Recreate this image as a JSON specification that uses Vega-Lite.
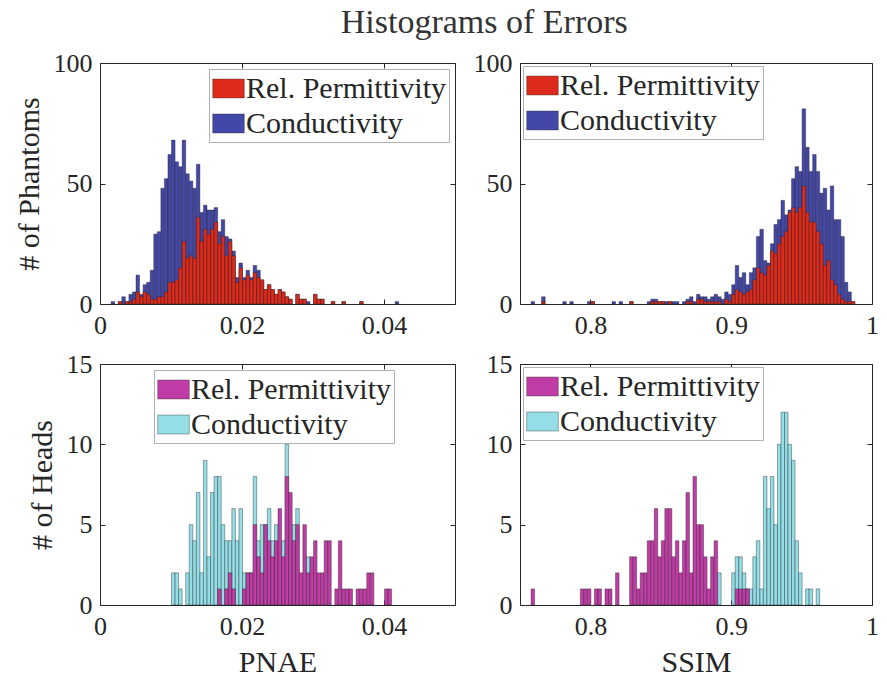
{
  "$schema": "https://vega.github.io/schema/vega-lite/v6.json",
  "padding": {"left": 13, "top": 5, "right": 5, "bottom": 5},
  "title": {"text": "Histograms of Errors", "fontSize": 34, "fontWeight": "normal", "font": "Liberation Serif", "color": "#333333", "anchor": "middle", "baseline": "alphabetic", "offset": -17, "dx": 38},
  "datasets": {
    "tl": [
      {"s":"Conductivity","a":0.0015,"b":0.002,"n":1},{"s":"Conductivity","a":0.0025,"b":0.003,"n":1},{"s":"Conductivity","a":0.003,"b":0.0035,"n":3},{"s":"Conductivity","a":0.0035,"b":0.004,"n":1},{"s":"Conductivity","a":0.004,"b":0.0045,"n":4},{"s":"Conductivity","a":0.0045,"b":0.005,"n":5},{"s":"Conductivity","a":0.005,"b":0.0055,"n":12},{"s":"Conductivity","a":0.0055,"b":0.006,"n":4},{"s":"Conductivity","a":0.006,"b":0.0065,"n":8},{"s":"Conductivity","a":0.0065,"b":0.007,"n":9},{"s":"Conductivity","a":0.007,"b":0.0075,"n":14},{"s":"Conductivity","a":0.0075,"b":0.008,"n":29},{"s":"Conductivity","a":0.008,"b":0.0085,"n":30},{"s":"Conductivity","a":0.0085,"b":0.009,"n":48},{"s":"Conductivity","a":0.009,"b":0.0095,"n":52},{"s":"Conductivity","a":0.0095,"b":0.01,"n":62},{"s":"Conductivity","a":0.01,"b":0.0105,"n":68},{"s":"Conductivity","a":0.0105,"b":0.011,"n":59},{"s":"Conductivity","a":0.011,"b":0.0115,"n":57},{"s":"Conductivity","a":0.0115,"b":0.012,"n":68},{"s":"Conductivity","a":0.012,"b":0.0125,"n":54},{"s":"Conductivity","a":0.0125,"b":0.013,"n":51},{"s":"Conductivity","a":0.013,"b":0.0135,"n":48},{"s":"Conductivity","a":0.0135,"b":0.014,"n":58},{"s":"Conductivity","a":0.014,"b":0.0145,"n":38},{"s":"Conductivity","a":0.0145,"b":0.015,"n":41},{"s":"Conductivity","a":0.015,"b":0.0155,"n":39},{"s":"Conductivity","a":0.0155,"b":0.016,"n":39},{"s":"Conductivity","a":0.016,"b":0.0165,"n":40},{"s":"Conductivity","a":0.0165,"b":0.017,"n":30},{"s":"Conductivity","a":0.017,"b":0.0175,"n":35},{"s":"Conductivity","a":0.0175,"b":0.018,"n":28},{"s":"Conductivity","a":0.018,"b":0.0185,"n":27},{"s":"Conductivity","a":0.0185,"b":0.019,"n":22},{"s":"Conductivity","a":0.019,"b":0.0195,"n":11},{"s":"Conductivity","a":0.0195,"b":0.02,"n":17},{"s":"Conductivity","a":0.02,"b":0.0205,"n":11},{"s":"Conductivity","a":0.0205,"b":0.021,"n":14},{"s":"Conductivity","a":0.021,"b":0.0215,"n":11},{"s":"Conductivity","a":0.0215,"b":0.022,"n":16},{"s":"Conductivity","a":0.022,"b":0.0225,"n":14},{"s":"Conductivity","a":0.0225,"b":0.023,"n":10},{"s":"Conductivity","a":0.023,"b":0.0235,"n":6},{"s":"Conductivity","a":0.0235,"b":0.024,"n":8},{"s":"Conductivity","a":0.024,"b":0.0245,"n":6},{"s":"Conductivity","a":0.0245,"b":0.025,"n":4},{"s":"Conductivity","a":0.025,"b":0.0255,"n":6},{"s":"Conductivity","a":0.0255,"b":0.026,"n":5},{"s":"Conductivity","a":0.026,"b":0.0265,"n":3},{"s":"Conductivity","a":0.0265,"b":0.027,"n":2},{"s":"Conductivity","a":0.0275,"b":0.028,"n":4},{"s":"Conductivity","a":0.028,"b":0.0285,"n":2},{"s":"Conductivity","a":0.0285,"b":0.029,"n":2},{"s":"Conductivity","a":0.029,"b":0.0295,"n":1},{"s":"Conductivity","a":0.03,"b":0.0305,"n":4},{"s":"Conductivity","a":0.0305,"b":0.031,"n":2},{"s":"Conductivity","a":0.031,"b":0.0315,"n":2},{"s":"Conductivity","a":0.0325,"b":0.033,"n":1},{"s":"Conductivity","a":0.034,"b":0.0345,"n":1},{"s":"Conductivity","a":0.0365,"b":0.037,"n":1},{"s":"Conductivity","a":0.0415,"b":0.042,"n":1},
      {"s":"Rel. Permittivity","a":0.0025,"b":0.003,"n":1},{"s":"Rel. Permittivity","a":0.0035,"b":0.004,"n":1},{"s":"Rel. Permittivity","a":0.004,"b":0.0045,"n":1},{"s":"Rel. Permittivity","a":0.0045,"b":0.005,"n":2},{"s":"Rel. Permittivity","a":0.005,"b":0.0055,"n":5},{"s":"Rel. Permittivity","a":0.0055,"b":0.006,"n":3},{"s":"Rel. Permittivity","a":0.006,"b":0.0065,"n":5},{"s":"Rel. Permittivity","a":0.0065,"b":0.007,"n":4},{"s":"Rel. Permittivity","a":0.007,"b":0.0075,"n":2},{"s":"Rel. Permittivity","a":0.0075,"b":0.008,"n":2},{"s":"Rel. Permittivity","a":0.008,"b":0.0085,"n":3},{"s":"Rel. Permittivity","a":0.0085,"b":0.009,"n":3},{"s":"Rel. Permittivity","a":0.009,"b":0.0095,"n":5},{"s":"Rel. Permittivity","a":0.0095,"b":0.01,"n":9},{"s":"Rel. Permittivity","a":0.01,"b":0.0105,"n":9},{"s":"Rel. Permittivity","a":0.0105,"b":0.011,"n":10},{"s":"Rel. Permittivity","a":0.011,"b":0.0115,"n":15},{"s":"Rel. Permittivity","a":0.0115,"b":0.012,"n":26},{"s":"Rel. Permittivity","a":0.012,"b":0.0125,"n":19},{"s":"Rel. Permittivity","a":0.0125,"b":0.013,"n":20},{"s":"Rel. Permittivity","a":0.013,"b":0.0135,"n":19},{"s":"Rel. Permittivity","a":0.0135,"b":0.014,"n":36},{"s":"Rel. Permittivity","a":0.014,"b":0.0145,"n":26},{"s":"Rel. Permittivity","a":0.0145,"b":0.015,"n":31},{"s":"Rel. Permittivity","a":0.015,"b":0.0155,"n":29},{"s":"Rel. Permittivity","a":0.0155,"b":0.016,"n":31},{"s":"Rel. Permittivity","a":0.016,"b":0.0165,"n":34},{"s":"Rel. Permittivity","a":0.0165,"b":0.017,"n":25},{"s":"Rel. Permittivity","a":0.017,"b":0.0175,"n":28},{"s":"Rel. Permittivity","a":0.0175,"b":0.018,"n":20},{"s":"Rel. Permittivity","a":0.018,"b":0.0185,"n":26},{"s":"Rel. Permittivity","a":0.0185,"b":0.019,"n":20},{"s":"Rel. Permittivity","a":0.019,"b":0.0195,"n":9},{"s":"Rel. Permittivity","a":0.0195,"b":0.02,"n":15},{"s":"Rel. Permittivity","a":0.02,"b":0.0205,"n":10},{"s":"Rel. Permittivity","a":0.0205,"b":0.021,"n":12},{"s":"Rel. Permittivity","a":0.021,"b":0.0215,"n":10},{"s":"Rel. Permittivity","a":0.0215,"b":0.022,"n":13},{"s":"Rel. Permittivity","a":0.022,"b":0.0225,"n":11},{"s":"Rel. Permittivity","a":0.0225,"b":0.023,"n":10},{"s":"Rel. Permittivity","a":0.023,"b":0.0235,"n":6},{"s":"Rel. Permittivity","a":0.0235,"b":0.024,"n":8},{"s":"Rel. Permittivity","a":0.024,"b":0.0245,"n":6},{"s":"Rel. Permittivity","a":0.0245,"b":0.025,"n":4},{"s":"Rel. Permittivity","a":0.025,"b":0.0255,"n":6},{"s":"Rel. Permittivity","a":0.0255,"b":0.026,"n":5},{"s":"Rel. Permittivity","a":0.026,"b":0.0265,"n":3},{"s":"Rel. Permittivity","a":0.0265,"b":0.027,"n":2},{"s":"Rel. Permittivity","a":0.0275,"b":0.028,"n":4},{"s":"Rel. Permittivity","a":0.028,"b":0.0285,"n":2},{"s":"Rel. Permittivity","a":0.0285,"b":0.029,"n":2},{"s":"Rel. Permittivity","a":0.03,"b":0.0305,"n":4},{"s":"Rel. Permittivity","a":0.0305,"b":0.031,"n":2},{"s":"Rel. Permittivity","a":0.031,"b":0.0315,"n":2},{"s":"Rel. Permittivity","a":0.0325,"b":0.033,"n":1},{"s":"Rel. Permittivity","a":0.034,"b":0.0345,"n":1},{"s":"Rel. Permittivity","a":0.0365,"b":0.037,"n":1}
    ],
    "tr": [
      {"s":"Conductivity","a":0.7575,"b":0.76,"n":1},{"s":"Conductivity","a":0.765,"b":0.7675,"n":3},{"s":"Conductivity","a":0.78,"b":0.7825,"n":1},{"s":"Conductivity","a":0.785,"b":0.7875,"n":1},{"s":"Conductivity","a":0.7975,"b":0.8,"n":1},{"s":"Conductivity","a":0.8,"b":0.8025,"n":1},{"s":"Conductivity","a":0.815,"b":0.8175,"n":1},{"s":"Conductivity","a":0.82,"b":0.8225,"n":1},{"s":"Conductivity","a":0.8275,"b":0.83,"n":1},{"s":"Conductivity","a":0.84,"b":0.8425,"n":1},{"s":"Conductivity","a":0.8425,"b":0.845,"n":2},{"s":"Conductivity","a":0.845,"b":0.8475,"n":2},{"s":"Conductivity","a":0.8475,"b":0.85,"n":1},{"s":"Conductivity","a":0.85,"b":0.8525,"n":1},{"s":"Conductivity","a":0.8525,"b":0.855,"n":1},{"s":"Conductivity","a":0.855,"b":0.8575,"n":1},{"s":"Conductivity","a":0.8575,"b":0.86,"n":1},{"s":"Conductivity","a":0.86,"b":0.8625,"n":1},{"s":"Conductivity","a":0.865,"b":0.8675,"n":1},{"s":"Conductivity","a":0.8675,"b":0.87,"n":2},{"s":"Conductivity","a":0.87,"b":0.8725,"n":3},{"s":"Conductivity","a":0.8725,"b":0.875,"n":1},{"s":"Conductivity","a":0.875,"b":0.8775,"n":4},{"s":"Conductivity","a":0.8775,"b":0.88,"n":3},{"s":"Conductivity","a":0.88,"b":0.8825,"n":3},{"s":"Conductivity","a":0.8825,"b":0.885,"n":2},{"s":"Conductivity","a":0.885,"b":0.8875,"n":3},{"s":"Conductivity","a":0.8875,"b":0.89,"n":4},{"s":"Conductivity","a":0.89,"b":0.8925,"n":3},{"s":"Conductivity","a":0.8925,"b":0.895,"n":2},{"s":"Conductivity","a":0.895,"b":0.8975,"n":5},{"s":"Conductivity","a":0.8975,"b":0.9,"n":4},{"s":"Conductivity","a":0.9,"b":0.9025,"n":8},{"s":"Conductivity","a":0.9025,"b":0.905,"n":16},{"s":"Conductivity","a":0.905,"b":0.9075,"n":11},{"s":"Conductivity","a":0.9075,"b":0.91,"n":13},{"s":"Conductivity","a":0.91,"b":0.9125,"n":8},{"s":"Conductivity","a":0.9125,"b":0.915,"n":13},{"s":"Conductivity","a":0.915,"b":0.9175,"n":15},{"s":"Conductivity","a":0.9175,"b":0.92,"n":28},{"s":"Conductivity","a":0.92,"b":0.9225,"n":31},{"s":"Conductivity","a":0.9225,"b":0.925,"n":18},{"s":"Conductivity","a":0.925,"b":0.9275,"n":17},{"s":"Conductivity","a":0.9275,"b":0.93,"n":25},{"s":"Conductivity","a":0.93,"b":0.9325,"n":33},{"s":"Conductivity","a":0.9325,"b":0.935,"n":35},{"s":"Conductivity","a":0.935,"b":0.9375,"n":43},{"s":"Conductivity","a":0.9375,"b":0.94,"n":37},{"s":"Conductivity","a":0.94,"b":0.9425,"n":39},{"s":"Conductivity","a":0.9425,"b":0.945,"n":52},{"s":"Conductivity","a":0.945,"b":0.9475,"n":57},{"s":"Conductivity","a":0.9475,"b":0.95,"n":55},{"s":"Conductivity","a":0.95,"b":0.9525,"n":81},{"s":"Conductivity","a":0.9525,"b":0.955,"n":65},{"s":"Conductivity","a":0.955,"b":0.9575,"n":55},{"s":"Conductivity","a":0.9575,"b":0.96,"n":62},{"s":"Conductivity","a":0.96,"b":0.9625,"n":55},{"s":"Conductivity","a":0.9625,"b":0.965,"n":46},{"s":"Conductivity","a":0.965,"b":0.9675,"n":48},{"s":"Conductivity","a":0.9675,"b":0.97,"n":39},{"s":"Conductivity","a":0.97,"b":0.9725,"n":49},{"s":"Conductivity","a":0.9725,"b":0.975,"n":35},{"s":"Conductivity","a":0.975,"b":0.9775,"n":35},{"s":"Conductivity","a":0.9775,"b":0.98,"n":28},{"s":"Conductivity","a":0.98,"b":0.9825,"n":9},{"s":"Conductivity","a":0.9825,"b":0.985,"n":5},{"s":"Conductivity","a":0.985,"b":0.9875,"n":1},
      {"s":"Rel. Permittivity","a":0.765,"b":0.7675,"n":1},{"s":"Rel. Permittivity","a":0.8,"b":0.8025,"n":1},{"s":"Rel. Permittivity","a":0.8275,"b":0.83,"n":1},{"s":"Rel. Permittivity","a":0.8425,"b":0.845,"n":1},{"s":"Rel. Permittivity","a":0.845,"b":0.8475,"n":1},{"s":"Rel. Permittivity","a":0.8475,"b":0.85,"n":1},{"s":"Rel. Permittivity","a":0.85,"b":0.8525,"n":1},{"s":"Rel. Permittivity","a":0.855,"b":0.8575,"n":1},{"s":"Rel. Permittivity","a":0.8675,"b":0.87,"n":1},{"s":"Rel. Permittivity","a":0.87,"b":0.8725,"n":1},{"s":"Rel. Permittivity","a":0.875,"b":0.8775,"n":2},{"s":"Rel. Permittivity","a":0.8775,"b":0.88,"n":2},{"s":"Rel. Permittivity","a":0.88,"b":0.8825,"n":1},{"s":"Rel. Permittivity","a":0.8825,"b":0.885,"n":1},{"s":"Rel. Permittivity","a":0.885,"b":0.8875,"n":1},{"s":"Rel. Permittivity","a":0.8875,"b":0.89,"n":1},{"s":"Rel. Permittivity","a":0.89,"b":0.8925,"n":1},{"s":"Rel. Permittivity","a":0.895,"b":0.8975,"n":2},{"s":"Rel. Permittivity","a":0.8975,"b":0.9,"n":1},{"s":"Rel. Permittivity","a":0.9,"b":0.9025,"n":4},{"s":"Rel. Permittivity","a":0.9025,"b":0.905,"n":6},{"s":"Rel. Permittivity","a":0.905,"b":0.9075,"n":5},{"s":"Rel. Permittivity","a":0.9075,"b":0.91,"n":4},{"s":"Rel. Permittivity","a":0.91,"b":0.9125,"n":5},{"s":"Rel. Permittivity","a":0.9125,"b":0.915,"n":6},{"s":"Rel. Permittivity","a":0.915,"b":0.9175,"n":10},{"s":"Rel. Permittivity","a":0.9175,"b":0.92,"n":15},{"s":"Rel. Permittivity","a":0.92,"b":0.9225,"n":13},{"s":"Rel. Permittivity","a":0.9225,"b":0.925,"n":12},{"s":"Rel. Permittivity","a":0.925,"b":0.9275,"n":16},{"s":"Rel. Permittivity","a":0.9275,"b":0.93,"n":22},{"s":"Rel. Permittivity","a":0.93,"b":0.9325,"n":21},{"s":"Rel. Permittivity","a":0.9325,"b":0.935,"n":25},{"s":"Rel. Permittivity","a":0.935,"b":0.9375,"n":28},{"s":"Rel. Permittivity","a":0.9375,"b":0.94,"n":30},{"s":"Rel. Permittivity","a":0.94,"b":0.9425,"n":38},{"s":"Rel. Permittivity","a":0.9425,"b":0.945,"n":40},{"s":"Rel. Permittivity","a":0.945,"b":0.9475,"n":38},{"s":"Rel. Permittivity","a":0.9475,"b":0.95,"n":40},{"s":"Rel. Permittivity","a":0.95,"b":0.9525,"n":49},{"s":"Rel. Permittivity","a":0.9525,"b":0.955,"n":38},{"s":"Rel. Permittivity","a":0.955,"b":0.9575,"n":34},{"s":"Rel. Permittivity","a":0.9575,"b":0.96,"n":34},{"s":"Rel. Permittivity","a":0.96,"b":0.9625,"n":30},{"s":"Rel. Permittivity","a":0.9625,"b":0.965,"n":25},{"s":"Rel. Permittivity","a":0.965,"b":0.9675,"n":16},{"s":"Rel. Permittivity","a":0.9675,"b":0.97,"n":18},{"s":"Rel. Permittivity","a":0.97,"b":0.9725,"n":10},{"s":"Rel. Permittivity","a":0.9725,"b":0.975,"n":8},{"s":"Rel. Permittivity","a":0.975,"b":0.9775,"n":4},{"s":"Rel. Permittivity","a":0.9775,"b":0.98,"n":2},{"s":"Rel. Permittivity","a":0.98,"b":0.9825,"n":1},{"s":"Rel. Permittivity","a":0.9825,"b":0.985,"n":1},{"s":"Rel. Permittivity","a":0.985,"b":0.9875,"n":1}
    ],
    "bl": [
      {"s":"Conductivity","a":0.01,"b":0.0105,"n":2},{"s":"Conductivity","a":0.0105,"b":0.011,"n":2},{"s":"Conductivity","a":0.011,"b":0.0115,"n":1},{"s":"Conductivity","a":0.012,"b":0.0125,"n":2},{"s":"Conductivity","a":0.0125,"b":0.013,"n":5},{"s":"Conductivity","a":0.013,"b":0.0135,"n":4},{"s":"Conductivity","a":0.0135,"b":0.014,"n":7},{"s":"Conductivity","a":0.014,"b":0.0145,"n":2},{"s":"Conductivity","a":0.0145,"b":0.015,"n":9},{"s":"Conductivity","a":0.015,"b":0.0155,"n":3},{"s":"Conductivity","a":0.0155,"b":0.016,"n":7},{"s":"Conductivity","a":0.016,"b":0.0165,"n":8},{"s":"Conductivity","a":0.0165,"b":0.017,"n":8},{"s":"Conductivity","a":0.017,"b":0.0175,"n":5},{"s":"Conductivity","a":0.0175,"b":0.018,"n":4},{"s":"Conductivity","a":0.018,"b":0.0185,"n":4},{"s":"Conductivity","a":0.0185,"b":0.019,"n":6},{"s":"Conductivity","a":0.019,"b":0.0195,"n":4},{"s":"Conductivity","a":0.0195,"b":0.02,"n":6},{"s":"Conductivity","a":0.02,"b":0.0205,"n":2},{"s":"Conductivity","a":0.0205,"b":0.021,"n":2},{"s":"Conductivity","a":0.021,"b":0.0215,"n":2},{"s":"Conductivity","a":0.0215,"b":0.022,"n":8},{"s":"Conductivity","a":0.022,"b":0.0225,"n":4},{"s":"Conductivity","a":0.0225,"b":0.023,"n":5},{"s":"Conductivity","a":0.023,"b":0.0235,"n":5},{"s":"Conductivity","a":0.0235,"b":0.024,"n":6},{"s":"Conductivity","a":0.024,"b":0.0245,"n":4},{"s":"Conductivity","a":0.0245,"b":0.025,"n":5},{"s":"Conductivity","a":0.0255,"b":0.026,"n":4},{"s":"Conductivity","a":0.026,"b":0.0265,"n":10},{"s":"Conductivity","a":0.027,"b":0.0275,"n":5},{"s":"Conductivity","a":0.0275,"b":0.028,"n":6},{"s":"Conductivity","a":0.029,"b":0.0295,"n":3},
      {"s":"Rel. Permittivity","a":0.0165,"b":0.017,"n":1},{"s":"Rel. Permittivity","a":0.0175,"b":0.018,"n":1},{"s":"Rel. Permittivity","a":0.018,"b":0.0185,"n":2},{"s":"Rel. Permittivity","a":0.0185,"b":0.019,"n":1},{"s":"Rel. Permittivity","a":0.02,"b":0.0205,"n":1},{"s":"Rel. Permittivity","a":0.0205,"b":0.021,"n":2},{"s":"Rel. Permittivity","a":0.021,"b":0.0215,"n":2},{"s":"Rel. Permittivity","a":0.0215,"b":0.022,"n":5},{"s":"Rel. Permittivity","a":0.022,"b":0.0225,"n":3},{"s":"Rel. Permittivity","a":0.0225,"b":0.023,"n":2},{"s":"Rel. Permittivity","a":0.023,"b":0.0235,"n":5},{"s":"Rel. Permittivity","a":0.0235,"b":0.024,"n":4},{"s":"Rel. Permittivity","a":0.024,"b":0.0245,"n":3},{"s":"Rel. Permittivity","a":0.0245,"b":0.025,"n":4},{"s":"Rel. Permittivity","a":0.025,"b":0.0255,"n":6},{"s":"Rel. Permittivity","a":0.0255,"b":0.026,"n":3},{"s":"Rel. Permittivity","a":0.026,"b":0.0265,"n":8},{"s":"Rel. Permittivity","a":0.0265,"b":0.027,"n":7},{"s":"Rel. Permittivity","a":0.027,"b":0.0275,"n":4},{"s":"Rel. Permittivity","a":0.0275,"b":0.028,"n":5},{"s":"Rel. Permittivity","a":0.028,"b":0.0285,"n":2},{"s":"Rel. Permittivity","a":0.0285,"b":0.029,"n":5},{"s":"Rel. Permittivity","a":0.029,"b":0.0295,"n":2},{"s":"Rel. Permittivity","a":0.0295,"b":0.03,"n":3},{"s":"Rel. Permittivity","a":0.03,"b":0.0305,"n":4},{"s":"Rel. Permittivity","a":0.0305,"b":0.031,"n":2},{"s":"Rel. Permittivity","a":0.031,"b":0.0315,"n":2},{"s":"Rel. Permittivity","a":0.0315,"b":0.032,"n":4},{"s":"Rel. Permittivity","a":0.032,"b":0.0325,"n":4},{"s":"Rel. Permittivity","a":0.033,"b":0.0335,"n":1},{"s":"Rel. Permittivity","a":0.0335,"b":0.034,"n":4},{"s":"Rel. Permittivity","a":0.034,"b":0.0345,"n":1},{"s":"Rel. Permittivity","a":0.0345,"b":0.035,"n":1},{"s":"Rel. Permittivity","a":0.035,"b":0.0355,"n":1},{"s":"Rel. Permittivity","a":0.036,"b":0.0365,"n":1},{"s":"Rel. Permittivity","a":0.0365,"b":0.037,"n":1},{"s":"Rel. Permittivity","a":0.037,"b":0.0375,"n":1},{"s":"Rel. Permittivity","a":0.0375,"b":0.038,"n":2},{"s":"Rel. Permittivity","a":0.038,"b":0.0385,"n":2},{"s":"Rel. Permittivity","a":0.04,"b":0.0405,"n":1},{"s":"Rel. Permittivity","a":0.0405,"b":0.041,"n":1}
    ],
    "br": [
      {"s":"Conductivity","a":0.89,"b":0.8925,"n":2},{"s":"Conductivity","a":0.9,"b":0.9025,"n":2},{"s":"Conductivity","a":0.9025,"b":0.905,"n":3},{"s":"Conductivity","a":0.905,"b":0.9075,"n":3},{"s":"Conductivity","a":0.9075,"b":0.91,"n":2},{"s":"Conductivity","a":0.91,"b":0.9125,"n":1},{"s":"Conductivity","a":0.9125,"b":0.915,"n":1},{"s":"Conductivity","a":0.915,"b":0.9175,"n":3},{"s":"Conductivity","a":0.9175,"b":0.92,"n":4},{"s":"Conductivity","a":0.92,"b":0.9225,"n":1},{"s":"Conductivity","a":0.9225,"b":0.925,"n":8},{"s":"Conductivity","a":0.925,"b":0.9275,"n":6},{"s":"Conductivity","a":0.9275,"b":0.93,"n":8},{"s":"Conductivity","a":0.93,"b":0.9325,"n":5},{"s":"Conductivity","a":0.9325,"b":0.935,"n":10},{"s":"Conductivity","a":0.935,"b":0.9375,"n":12},{"s":"Conductivity","a":0.9375,"b":0.94,"n":12},{"s":"Conductivity","a":0.94,"b":0.9425,"n":10},{"s":"Conductivity","a":0.9425,"b":0.945,"n":9},{"s":"Conductivity","a":0.945,"b":0.9475,"n":4},{"s":"Conductivity","a":0.9475,"b":0.95,"n":2},{"s":"Conductivity","a":0.9525,"b":0.955,"n":1},{"s":"Conductivity","a":0.955,"b":0.9575,"n":1},{"s":"Conductivity","a":0.96,"b":0.9625,"n":1},
      {"s":"Rel. Permittivity","a":0.7575,"b":0.76,"n":1},{"s":"Rel. Permittivity","a":0.7925,"b":0.795,"n":1},{"s":"Rel. Permittivity","a":0.795,"b":0.7975,"n":1},{"s":"Rel. Permittivity","a":0.7975,"b":0.8,"n":1},{"s":"Rel. Permittivity","a":0.8025,"b":0.805,"n":1},{"s":"Rel. Permittivity","a":0.805,"b":0.8075,"n":1},{"s":"Rel. Permittivity","a":0.81,"b":0.8125,"n":1},{"s":"Rel. Permittivity","a":0.8125,"b":0.815,"n":1},{"s":"Rel. Permittivity","a":0.8175,"b":0.82,"n":2},{"s":"Rel. Permittivity","a":0.8275,"b":0.83,"n":3},{"s":"Rel. Permittivity","a":0.83,"b":0.8325,"n":3},{"s":"Rel. Permittivity","a":0.8325,"b":0.835,"n":1},{"s":"Rel. Permittivity","a":0.835,"b":0.8375,"n":2},{"s":"Rel. Permittivity","a":0.8375,"b":0.84,"n":2},{"s":"Rel. Permittivity","a":0.84,"b":0.8425,"n":4},{"s":"Rel. Permittivity","a":0.8425,"b":0.845,"n":4},{"s":"Rel. Permittivity","a":0.845,"b":0.8475,"n":6},{"s":"Rel. Permittivity","a":0.8475,"b":0.85,"n":3},{"s":"Rel. Permittivity","a":0.85,"b":0.8525,"n":4},{"s":"Rel. Permittivity","a":0.8525,"b":0.855,"n":6},{"s":"Rel. Permittivity","a":0.855,"b":0.8575,"n":6},{"s":"Rel. Permittivity","a":0.8575,"b":0.86,"n":3},{"s":"Rel. Permittivity","a":0.86,"b":0.8625,"n":4},{"s":"Rel. Permittivity","a":0.8625,"b":0.865,"n":2},{"s":"Rel. Permittivity","a":0.865,"b":0.8675,"n":4},{"s":"Rel. Permittivity","a":0.8675,"b":0.87,"n":7},{"s":"Rel. Permittivity","a":0.87,"b":0.8725,"n":2},{"s":"Rel. Permittivity","a":0.8725,"b":0.875,"n":8},{"s":"Rel. Permittivity","a":0.875,"b":0.8775,"n":5},{"s":"Rel. Permittivity","a":0.8775,"b":0.88,"n":5},{"s":"Rel. Permittivity","a":0.88,"b":0.8825,"n":3},{"s":"Rel. Permittivity","a":0.8825,"b":0.885,"n":1},{"s":"Rel. Permittivity","a":0.885,"b":0.8875,"n":3},{"s":"Rel. Permittivity","a":0.8875,"b":0.89,"n":4},{"s":"Rel. Permittivity","a":0.9025,"b":0.905,"n":1},{"s":"Rel. Permittivity","a":0.905,"b":0.9075,"n":1},{"s":"Rel. Permittivity","a":0.9075,"b":0.91,"n":1},{"s":"Rel. Permittivity","a":0.91,"b":0.9125,"n":1}
    ]
  },
  "vconcat": [
    {
      "hconcat": [
        {
          "width": 355, "height": 241,
          "data": {"name": "tl"},
          "layer": [
            {"transform": [{"filter": "datum.s == 'Conductivity'"}], "mark": "bar",
             "encoding": {
               "x": {"field": "a", "type": "quantitative", "bin": "binned", "scale": {"domain": [0, 0.05], "nice": false, "zero": false}, "axis": {"values": [0, 0.02, 0.04], "format": "~g", "title": null}},
               "x2": {"field": "b"},
               "y": {"field": "n", "type": "quantitative", "scale": {"domain": [0, 100], "nice": false}, "axis": {"values": [0, 50, 100], "title": "# of Phantoms"}},
               "color": {"field": "s", "type": "nominal", "scale": {"domain": ["Rel. Permittivity", "Conductivity"], "range": ["#dd2a1b", "#4347a7"]}, "legend": {"orient": "top-right", "offset": 6}}}},
            {"transform": [{"filter": "datum.s == 'Rel. Permittivity'"}], "mark": "bar",
             "encoding": {
               "x": {"field": "a", "type": "quantitative", "bin": "binned", "scale": {"domain": [0, 0.05], "nice": false, "zero": false}, "axis": {"orient": "top", "values": [0, 0.02, 0.04], "labels": false, "title": null}},
               "x2": {"field": "b"},
               "y": {"field": "n", "type": "quantitative", "scale": {"domain": [0, 100], "nice": false}, "axis": {"orient": "right", "values": [0, 50, 100], "labels": false, "title": null}},
               "color": {"field": "s", "type": "nominal", "scale": {"domain": ["Rel. Permittivity", "Conductivity"], "range": ["#dd2a1b", "#4347a7"]}, "legend": {"orient": "top-right", "offset": 6}}}}
          ],
          "resolve": {"axis": {"x": "independent", "y": "independent"}}
        },
        {
          "width": 352, "height": 241,
          "data": {"name": "tr"},
          "layer": [
            {"transform": [{"filter": "datum.s == 'Conductivity'"}], "mark": "bar",
             "encoding": {
               "x": {"field": "a", "type": "quantitative", "bin": "binned", "scale": {"domain": [0.75, 1], "nice": false, "zero": false}, "axis": {"values": [0.8, 0.9, 1], "format": "~g", "title": null}},
               "x2": {"field": "b"},
               "y": {"field": "n", "type": "quantitative", "scale": {"domain": [0, 100], "nice": false}, "axis": {"values": [0, 50, 100], "title": null}},
               "color": {"field": "s", "type": "nominal", "scale": {"domain": ["Rel. Permittivity", "Conductivity"], "range": ["#dd2a1b", "#4347a7"]}, "legend": {"orient": "top-left", "offset": 3}}}},
            {"transform": [{"filter": "datum.s == 'Rel. Permittivity'"}], "mark": "bar",
             "encoding": {
               "x": {"field": "a", "type": "quantitative", "bin": "binned", "scale": {"domain": [0.75, 1], "nice": false, "zero": false}, "axis": {"orient": "top", "values": [0.8, 0.9, 1], "labels": false, "title": null}},
               "x2": {"field": "b"},
               "y": {"field": "n", "type": "quantitative", "scale": {"domain": [0, 100], "nice": false}, "axis": {"orient": "right", "values": [0, 50, 100], "labels": false, "title": null}},
               "color": {"field": "s", "type": "nominal", "scale": {"domain": ["Rel. Permittivity", "Conductivity"], "range": ["#dd2a1b", "#4347a7"]}, "legend": {"orient": "top-left", "offset": 3}}}}
          ],
          "resolve": {"axis": {"x": "independent", "y": "independent"}}
        }
      ],
      "spacing": 65,
      "bounds": "flush",
      "resolve": {"scale": {"color": "independent"}, "legend": {"color": "independent"}}
    },
    {
      "hconcat": [
        {
          "width": 355, "height": 241,
          "data": {"name": "bl"},
          "layer": [
            {"transform": [{"filter": "datum.s == 'Conductivity'"}], "mark": "bar",
             "encoding": {
               "x": {"field": "a", "type": "quantitative", "bin": "binned", "scale": {"domain": [0, 0.05], "nice": false, "zero": false}, "axis": {"values": [0, 0.02, 0.04], "format": "~g", "title": "PNAE"}},
               "x2": {"field": "b"},
               "y": {"field": "n", "type": "quantitative", "scale": {"domain": [0, 15], "nice": false}, "axis": {"values": [0, 5, 10, 15], "title": "# of Heads"}},
               "color": {"field": "s", "type": "nominal", "scale": {"domain": ["Rel. Permittivity", "Conductivity"], "range": ["#c13ca7", "#94dee7"]}, "legend": {"orient": "none", "legendX": 54, "legendY": 6}}}},
            {"transform": [{"filter": "datum.s == 'Rel. Permittivity'"}], "mark": "bar",
             "encoding": {
               "x": {"field": "a", "type": "quantitative", "bin": "binned", "scale": {"domain": [0, 0.05], "nice": false, "zero": false}, "axis": {"orient": "top", "values": [0, 0.02, 0.04], "labels": false, "title": null}},
               "x2": {"field": "b"},
               "y": {"field": "n", "type": "quantitative", "scale": {"domain": [0, 15], "nice": false}, "axis": {"orient": "right", "values": [0, 5, 10, 15], "labels": false, "title": null}},
               "color": {"field": "s", "type": "nominal", "scale": {"domain": ["Rel. Permittivity", "Conductivity"], "range": ["#c13ca7", "#94dee7"]}, "legend": {"orient": "none", "legendX": 54, "legendY": 6}}}}
          ],
          "resolve": {"axis": {"x": "independent", "y": "independent"}}
        },
        {
          "width": 352, "height": 241,
          "data": {"name": "br"},
          "layer": [
            {"transform": [{"filter": "datum.s == 'Conductivity'"}], "mark": "bar",
             "encoding": {
               "x": {"field": "a", "type": "quantitative", "bin": "binned", "scale": {"domain": [0.75, 1], "nice": false, "zero": false}, "axis": {"values": [0.8, 0.9, 1], "format": "~g", "title": "SSIM"}},
               "x2": {"field": "b"},
               "y": {"field": "n", "type": "quantitative", "scale": {"domain": [0, 15], "nice": false}, "axis": {"values": [0, 5, 10, 15], "title": null}},
               "color": {"field": "s", "type": "nominal", "scale": {"domain": ["Rel. Permittivity", "Conductivity"], "range": ["#c13ca7", "#94dee7"]}, "legend": {"orient": "top-left", "offset": 3}}}},
            {"transform": [{"filter": "datum.s == 'Rel. Permittivity'"}], "mark": "bar",
             "encoding": {
               "x": {"field": "a", "type": "quantitative", "bin": "binned", "scale": {"domain": [0.75, 1], "nice": false, "zero": false}, "axis": {"orient": "top", "values": [0.8, 0.9, 1], "labels": false, "title": null}},
               "x2": {"field": "b"},
               "y": {"field": "n", "type": "quantitative", "scale": {"domain": [0, 15], "nice": false}, "axis": {"orient": "right", "values": [0, 5, 10, 15], "labels": false, "title": null}},
               "color": {"field": "s", "type": "nominal", "scale": {"domain": ["Rel. Permittivity", "Conductivity"], "range": ["#c13ca7", "#94dee7"]}, "legend": {"orient": "top-left", "offset": 3}}}}
          ],
          "resolve": {"axis": {"x": "independent", "y": "independent"}}
        }
      ],
      "spacing": 65,
      "bounds": "flush",
      "resolve": {"scale": {"color": "independent"}, "legend": {"color": "independent"}}
    }
  ],
  "spacing": 11,
  "resolve": {"scale": {"color": "independent"}, "legend": {"color": "independent"}},
  "config": {
    "font": "Liberation Serif",
    "view": {"stroke": "#262626", "strokeWidth": 1},
    "bar": {"stroke": "#222222", "strokeWidth": 0.5, "strokeOpacity": 0.8, "binSpacing": 0},
    "axis": {"domain": false, "grid": false, "ticks": true, "tickSize": -5, "tickColor": "#262626", "labelFont": "Liberation Serif", "labelFontSize": 26, "labelColor": "#262626", "labelFlush": false, "labelOverlap": false, "titleFont": "Liberation Serif", "titleFontSize": 30, "titleFontWeight": "normal", "titleColor": "#262626"},
    "axisX": {"labelPadding": 13, "titlePadding": 8},
    "axisY": {"labelPadding": 13, "titlePadding": 9},
    "legend": {"title": null, "labelFont": "Liberation Serif", "labelFontSize": 30, "labelColor": "#262626", "labelLimit": 400, "labelOffset": 1, "symbolType": "M-1,-0.6H1V0.6H-1Z", "symbolSize": 1000, "symbolStrokeColor": "#333333", "symbolStrokeWidth": 0.6, "symbolOpacity": 1, "rowPadding": 3, "padding": 3, "strokeColor": "#b0b0b0", "fillColor": "white"}
  }
}
